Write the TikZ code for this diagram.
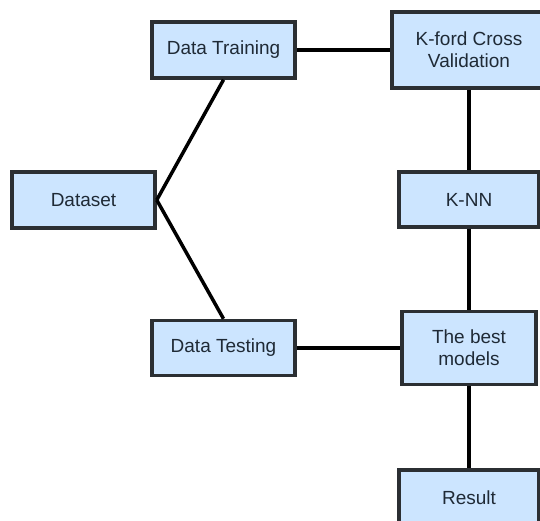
\documentclass[tikz,border=0pt]{standalone}
\usepackage{fontspec}
\setmainfont{Liberation Sans}
\usepackage{tikz}

\definecolor{boxfill}{HTML}{CCE5FF}
\definecolor{boxline}{HTML}{2B2F33}
\definecolor{boxtext}{HTML}{1F2A36}

\begin{document}
\begin{tikzpicture}[
    x=1pt, y=-1pt,
    every node/.style={rectangle, draw=boxline, fill=boxfill, line width=3.5pt,
      inner sep=0pt, align=center, text=boxtext,
      font=\fontsize{19}{22}\selectfont},
    link/.style={line width=3.5pt, black}
  ]
    \clip (0,0) rectangle (540,521);
    \node[minimum width=143, minimum height=56] (data) at (83.5, 200) {Dataset};
    \node[minimum width=143, minimum height=56] (train) at (223.5, 50) {Data Training};
    \node[minimum width=143, minimum height=55] (test) at (223.5, 348) {Data Testing};
    \node[minimum width=154, minimum height=76] (kfold) at (469, 50) {K-ford Cross\\Validation};
    \node[minimum width=140, minimum height=55] (knn) at (469, 199.5) {K-NN};
    \node[minimum width=134, minimum height=73] (best) at (469, 348) {The best\\models};
    \node[minimum width=140, minimum height=56] (result) at (469, 498) {Result};
    \draw[link] (train.south) -- (data.east);
    \draw[link] (test.north) -- (data.east);
    \draw[link] (train) -- (kfold);
    \draw[link] (test) -- (best);
    \draw[link] (kfold) -- (knn);
    \draw[link] (knn) -- (best);
    \draw[link] (best) -- (result);
  \end{tikzpicture}
\end{document}
